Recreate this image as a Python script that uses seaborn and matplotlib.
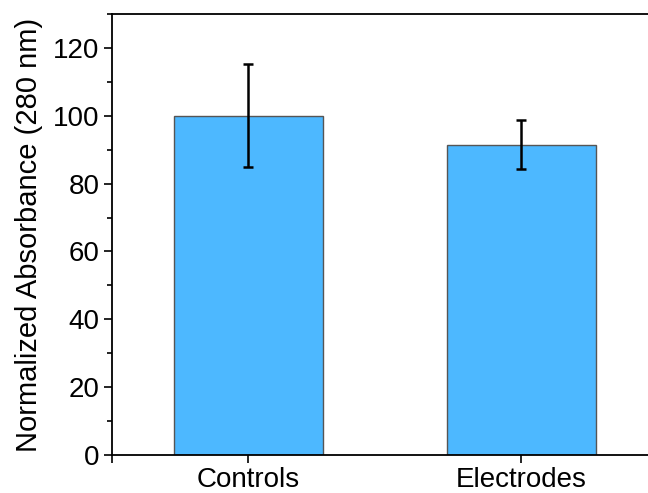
import matplotlib
matplotlib.use("Agg")
import matplotlib.pyplot as plt
import seaborn as sns
import pandas as pd
from matplotlib.ticker import MultipleLocator

# Data
groups = ["Controls", "Electrodes"]
means = [100.0, 91.5]
errors = [15.2, 7.2]

df = pd.DataFrame({"group": groups, "value": means})

sns.set_style("ticks")
plt.rcParams["font.family"] = ["Liberation Sans", "DejaVu Sans"]
plt.rcParams["text.color"] = "black"
plt.rcParams["axes.labelcolor"] = "black"
plt.rcParams["xtick.color"] = "black"
plt.rcParams["ytick.color"] = "black"

fig = plt.figure(figsize=(6.48, 4.93), dpi=100)
ax = fig.add_axes([0.1728, 0.0771, 0.8426, 0.8945])

sns.barplot(data=df, x="group", y="value", color="#4DB8FF", saturation=1,
            width=0.545, edgecolor="#555555", linewidth=1, errorbar=None, ax=ax)
ax.errorbar(range(len(groups)), means, yerr=errors, fmt="none", ecolor="black",
            elinewidth=1.8, capsize=3.6, capthick=1.8)

ax.set_xlim(-0.5, 1.5)
ax.set_ylim(0, 130)
ax.yaxis.set_major_locator(MultipleLocator(20))
ax.yaxis.set_minor_locator(MultipleLocator(10))
ax.set_xticks([-0.5, 0, 1])
ax.set_xticklabels(["", groups[0], groups[1]])

ax.tick_params(axis="both", which="major", direction="out", length=6, width=1.2,
               labelsize=20, color="black", pad=3)
ax.tick_params(axis="y", which="minor", direction="out", length=3.5, width=1.2)
for s in ax.spines.values():
    s.set_linewidth(1.3)
    s.set_color("black")

ax.set_xlabel("")
ax.set_ylabel("Normalized Absorbance (280 nm)", fontsize=21, labelpad=7)

fig.savefig("out.png", dpi=100)
